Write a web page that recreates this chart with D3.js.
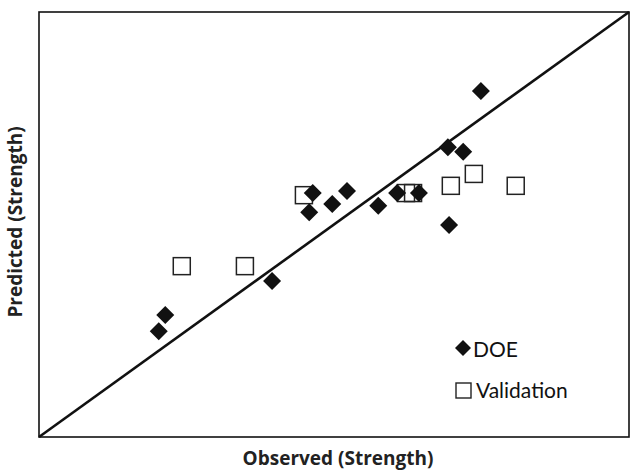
<!DOCTYPE html>
<html><head><meta charset="utf-8">
<script src="https://cdn.jsdelivr.net/npm/d3@7"></script>
<style>body{margin:0;background:#fff}svg{display:block}</style>
</head><body>
<svg id="c" width="633" height="471"></svg>
<script>
// Observed vs predicted (relative units 0-100)
const doeObserved  = [20.3, 21.4, 39.5, 45.8, 46.4, 49.7, 52.2, 57.5, 60.7, 64.4, 69.3, 71.9, 74.9, 69.5];
const doePredicted = [24.9, 28.7, 36.7, 52.9, 57.4, 54.8, 57.9, 54.4, 57.4, 57.4, 68.2, 67.1, 81.4, 49.9];
const valObserved  = [44.9, 24.2, 34.9, 62.2, 63.4, 69.8, 73.7, 80.8];
const valPredicted = [56.9, 40.2, 40.2, 57.4, 57.4, 59.1, 61.9, 59.1];
const axisRange = [0, 100];
const seriesNames = ["DOE", "Validation"];
const xTitle = "Observed (Strength)";
const yTitle = "Predicted (Strength)";

const svg = d3.select("#c");
const L = 39, R = 629, T = 12, B = 437;
const x = d3.scaleLinear().domain(axisRange).range([L, R]);
const y = d3.scaleLinear().domain(axisRange).range([B, T]);

// frame
svg.append("rect").attr("x", L).attr("y", T).attr("width", R - L).attr("height", B - T)
  .attr("fill", "none").attr("stroke", "#111").attr("stroke-width", 1.6);

// 1:1 line
svg.append("line").attr("x1", x(axisRange[0])).attr("y1", y(axisRange[0]))
  .attr("x2", x(axisRange[1])).attr("y2", y(axisRange[1]))
  .attr("stroke", "#111").attr("stroke-width", 2.6);

const diamond = s => `M0,${-s}L${s},0L0,${s}L${-s},0Z`;

// validation squares
const vs = 8.5;
svg.append("g").selectAll("rect").data(valObserved.map((v, i) => [v, valPredicted[i]]))
  .join("rect")
  .attr("x", d => x(d[0]) - vs).attr("y", d => y(d[1]) - vs)
  .attr("width", vs * 2).attr("height", vs * 2)
  .attr("fill", "none").attr("stroke", "#222").attr("stroke-width", 1.5);

// DOE diamonds
svg.append("g").selectAll("path").data(doeObserved.map((v, i) => [v, doePredicted[i]]))
  .join("path")
  .attr("d", diamond(9))
  .attr("transform", d => `translate(${x(d[0])},${y(d[1])})`)
  .attr("fill", "#111");

// legend
const lg = svg.append("g").attr("font-family", "Lato, 'Open Sans', sans-serif").attr("fill", "#111");
lg.append("path").attr("d", diamond(8)).attr("transform", "translate(463,348)").attr("fill", "#111");
lg.append("text").attr("x", 473).attr("y", 357).attr("font-size", 21).text(seriesNames[0]);
lg.append("rect").attr("x", 456).attr("y", 383).attr("width", 15).attr("height", 15)
  .attr("fill", "none").attr("stroke", "#222").attr("stroke-width", 1.4);
lg.append("text").attr("x", 476).attr("y", 398).attr("font-size", 21).text(seriesNames[1]);

// axis titles
svg.append("text").attr("x", 338).attr("y", 465)
  .attr("text-anchor", "middle").attr("font-family", "'Open Sans', sans-serif")
  .attr("font-weight", "bold").attr("font-size", 19).attr("fill", "#222").text(xTitle);
svg.append("text").attr("transform", `translate(22,222) rotate(-90)`)
  .attr("text-anchor", "middle").attr("font-family", "'Open Sans', sans-serif")
  .attr("font-weight", "bold").attr("font-size", 19).attr("fill", "#222").text(yTitle);
</script>
</body></html>
